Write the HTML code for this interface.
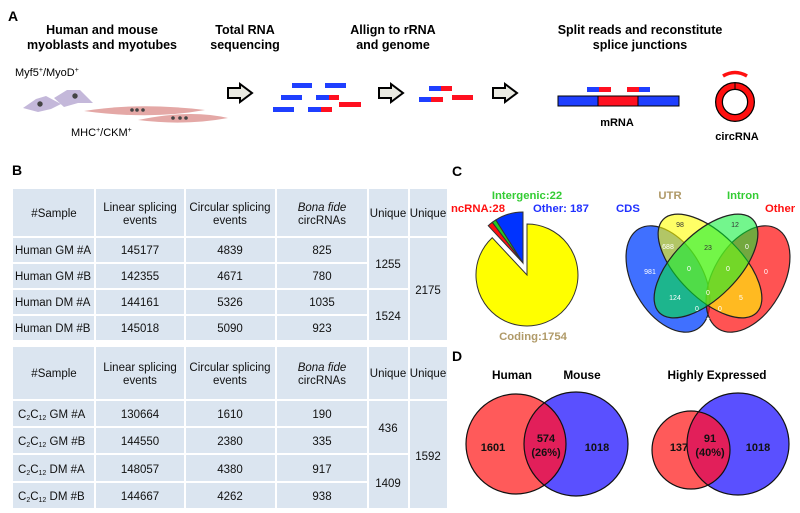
<!DOCTYPE html>
<html><head><meta charset="utf-8"><style>
body{margin:0;background:#fff;}
svg{display:block;font-family:"Liberation Sans",sans-serif;}
</style></head><body>
<svg width="800" height="513" viewBox="0 0 800 513" xmlns="http://www.w3.org/2000/svg">
<defs>
<clipPath id="h1"><circle cx="516" cy="444" r="50"/></clipPath>
<clipPath id="h2"><circle cx="691" cy="450" r="39"/></clipPath>
</defs>
<!-- Panel A -->
<text x="8" y="21" font-size="14" font-weight="bold">A</text>
<g font-size="12.5" font-weight="bold" text-anchor="middle">
<text x="102" y="34">Human and mouse</text><text x="102" y="49">myoblasts and myotubes</text>
<text x="245" y="34">Total RNA</text><text x="245" y="49">sequencing</text>
<text x="393" y="34">Allign to rRNA</text><text x="393" y="49">and genome</text>
<text x="640" y="34">Split reads and reconstitute</text><text x="640" y="49">splice junctions</text>
</g>
<text x="15" y="76" font-size="11">Myf5<tspan font-size="7" dy="-4">+</tspan><tspan dy="4">/MyoD</tspan><tspan font-size="7" dy="-4">+</tspan></text>
<text x="71" y="136" font-size="11">MHC<tspan font-size="7" dy="-4">+</tspan><tspan dy="4">/CKM</tspan><tspan font-size="7" dy="-4">+</tspan></text>
<path d="M23,108 L36,99 L46,96 L61,104 L51,109 L38,112 Z" fill="#c4b8da"/>
<path d="M54,98 L67,90 L80,90 L93,103 L78,103 L64,107 Z" fill="#c4b8da"/>
<circle cx="40" cy="104" r="2.7" fill="#444"/><circle cx="75" cy="96" r="2.7" fill="#444"/>
<path d="M84,111 Q140,102 205,110 Q150,120 84,111 Z" fill="#e4a8a6"/>
<path d="M138,120 Q190,109 228,118 Q185,126 138,120 Z" fill="#e4a8a6"/>
<g fill="#444"><circle cx="132" cy="110" r="1.8"/><circle cx="137" cy="110" r="1.8"/><circle cx="143" cy="110" r="1.8"/>
<circle cx="173" cy="118" r="1.8"/><circle cx="180" cy="118" r="1.8"/><circle cx="186" cy="118" r="1.8"/></g>
<g fill="#eaeae2" stroke="#000" stroke-width="2">
<path d="M228,88 L240,88 L240,84 L252,93 L240,102 L240,98 L228,98 Z"/>
<path d="M379,88 L391,88 L391,84 L403,93 L391,102 L391,98 L379,98 Z"/>
<path d="M493,88 L505,88 L505,84 L517,93 L505,102 L505,98 L493,98 Z"/>
</g>
<g>
<rect x="292" y="83" width="20" height="5" fill="#1f3fff"/><rect x="325" y="83" width="21" height="5" fill="#1f3fff"/>
<rect x="281" y="95" width="21" height="5" fill="#1f3fff"/><rect x="316" y="95" width="13" height="5" fill="#1f3fff"/><rect x="329" y="95" width="10" height="5" fill="#ff1020"/>
<rect x="339" y="102" width="22" height="5" fill="#ff1020"/>
<rect x="273" y="107" width="21" height="5" fill="#1f3fff"/><rect x="308" y="107" width="13" height="5" fill="#1f3fff"/><rect x="321" y="107" width="11" height="5" fill="#ff1020"/>
<rect x="429" y="86" width="12" height="5" fill="#1f3fff"/><rect x="441" y="86" width="11" height="5" fill="#ff1020"/>
<rect x="419" y="97" width="12" height="5" fill="#1f3fff"/><rect x="431" y="97" width="12" height="5" fill="#ff1020"/>
<rect x="452" y="95" width="21" height="5" fill="#ff1020"/>
<rect x="587" y="87" width="12" height="5" fill="#1f3fff"/><rect x="599" y="87" width="12" height="5" fill="#ff1020"/>
<rect x="627" y="87" width="12" height="5" fill="#ff1020"/><rect x="639" y="87" width="11" height="5" fill="#1f3fff"/>
</g>
<rect x="558" y="96" width="40" height="10" fill="#1f3fff" stroke="#000"/>
<rect x="598" y="96" width="40" height="10" fill="#ff1020" stroke="#000"/>
<rect x="638" y="96" width="41" height="10" fill="#1f3fff" stroke="#000"/>
<text x="617" y="126" font-size="11" font-weight="bold" text-anchor="middle">mRNA</text>
<circle cx="735" cy="102" r="16" fill="none" stroke="#000" stroke-width="8"/>
<circle cx="735" cy="102" r="16" fill="none" stroke="#ff1010" stroke-width="5.5"/>
<line x1="735" y1="83" x2="735" y2="89" stroke="#000" stroke-width="1"/>
<path d="M723,76 Q735,69 747,76" fill="none" stroke="#ff1010" stroke-width="3.5"/>
<text x="737" y="140" font-size="11" font-weight="bold" text-anchor="middle">circRNA</text>

<!-- Panel B -->
<text x="12" y="175" font-size="14" font-weight="bold">B</text>
<g fill="#dbe5f0">
<rect x="13" y="189" width="81" height="47"/><rect x="96" y="189" width="88" height="47"/><rect x="186" y="189" width="89" height="47"/><rect x="277" y="189" width="90" height="47"/><rect x="369" y="189" width="39" height="47"/><rect x="410" y="189" width="37" height="47"/>
<rect x="13" y="238" width="81" height="24"/><rect x="96" y="238" width="88" height="24"/><rect x="186" y="238" width="89" height="24"/><rect x="277" y="238" width="90" height="24"/>
<rect x="13" y="264" width="81" height="24"/><rect x="96" y="264" width="88" height="24"/><rect x="186" y="264" width="89" height="24"/><rect x="277" y="264" width="90" height="24"/>
<rect x="13" y="290" width="81" height="24"/><rect x="96" y="290" width="88" height="24"/><rect x="186" y="290" width="89" height="24"/><rect x="277" y="290" width="90" height="24"/>
<rect x="13" y="316" width="81" height="24"/><rect x="96" y="316" width="88" height="24"/><rect x="186" y="316" width="89" height="24"/><rect x="277" y="316" width="90" height="24"/>
<rect x="369" y="238" width="39" height="50"/><rect x="369" y="290" width="39" height="50"/><rect x="410" y="238" width="37" height="102"/>
<rect x="13" y="347" width="81" height="52"/><rect x="96" y="347" width="88" height="52"/><rect x="186" y="347" width="89" height="52"/><rect x="277" y="347" width="90" height="52"/><rect x="369" y="347" width="39" height="52"/><rect x="410" y="347" width="37" height="52"/>
<rect x="13" y="401" width="81" height="25"/><rect x="96" y="401" width="88" height="25"/><rect x="186" y="401" width="89" height="25"/><rect x="277" y="401" width="90" height="25"/>
<rect x="13" y="428" width="81" height="25"/><rect x="96" y="428" width="88" height="25"/><rect x="186" y="428" width="89" height="25"/><rect x="277" y="428" width="90" height="25"/>
<rect x="13" y="455" width="81" height="26"/><rect x="96" y="455" width="88" height="26"/><rect x="186" y="455" width="89" height="26"/><rect x="277" y="455" width="90" height="26"/>
<rect x="13" y="483" width="81" height="25"/><rect x="96" y="483" width="88" height="25"/><rect x="186" y="483" width="89" height="25"/><rect x="277" y="483" width="90" height="25"/>
<rect x="369" y="401" width="39" height="52"/><rect x="369" y="455" width="39" height="53"/><rect x="410" y="401" width="37" height="107"/>
</g>
<g font-size="11.5" text-anchor="middle" fill="#111">
<text x="54" y="217">#Sample</text>
<text x="140" y="211">Linear splicing</text><text x="140" y="224">events</text>
<text x="230" y="211">Circular splicing</text><text x="230" y="224">events</text>
<text x="322" y="211" font-style="italic">Bona fide</text><text x="322" y="224">circRNAs</text>
<text x="388" y="217">Unique</text><text x="428" y="217">Unique</text>
<text x="140" y="254">145177</text><text x="230" y="254">4839</text><text x="322" y="254">825</text>
<text x="140" y="280">142355</text><text x="230" y="280">4671</text><text x="322" y="280">780</text>
<text x="140" y="306">144161</text><text x="230" y="306">5326</text><text x="322" y="306">1035</text>
<text x="140" y="332">145018</text><text x="230" y="332">5090</text><text x="322" y="332">923</text>
<text x="388" y="268">1255</text><text x="388" y="320">1524</text><text x="428" y="294">2175</text>
<text x="54" y="377">#Sample</text>
<text x="140" y="371">Linear splicing</text><text x="140" y="384">events</text>
<text x="230" y="371">Circular splicing</text><text x="230" y="384">events</text>
<text x="322" y="371" font-style="italic">Bona fide</text><text x="322" y="384">circRNAs</text>
<text x="388" y="377">Unique</text><text x="428" y="377">Unique</text>
<text x="140" y="418">130664</text><text x="230" y="418">1610</text><text x="322" y="418">190</text>
<text x="140" y="445">144550</text><text x="230" y="445">2380</text><text x="322" y="445">335</text>
<text x="140" y="473">148057</text><text x="230" y="473">4380</text><text x="322" y="473">917</text>
<text x="140" y="500">144667</text><text x="230" y="500">4262</text><text x="322" y="500">938</text>
<text x="388" y="432">436</text><text x="388" y="487">1409</text><text x="428" y="460">1592</text>
</g>
<g font-size="11.5" fill="#111">
<text x="15" y="254">Human GM #A</text><text x="15" y="280">Human GM #B</text><text x="15" y="306">Human DM #A</text><text x="15" y="332">Human DM #B</text>
<text x="18" y="418">C<tspan font-size="7" dy="2">2</tspan><tspan dy="-2">C</tspan><tspan font-size="7" dy="2">12</tspan><tspan dy="-2"> GM #A</tspan></text>
<text x="18" y="445">C<tspan font-size="7" dy="2">2</tspan><tspan dy="-2">C</tspan><tspan font-size="7" dy="2">12</tspan><tspan dy="-2"> GM #B</tspan></text>
<text x="18" y="473">C<tspan font-size="7" dy="2">2</tspan><tspan dy="-2">C</tspan><tspan font-size="7" dy="2">12</tspan><tspan dy="-2"> DM #A</tspan></text>
<text x="18" y="500">C<tspan font-size="7" dy="2">2</tspan><tspan dy="-2">C</tspan><tspan font-size="7" dy="2">12</tspan><tspan dy="-2"> DM #B</tspan></text>
</g>

<!-- Panel C -->
<text x="452" y="176" font-size="14" font-weight="bold">C</text>
<g font-size="11.3" font-weight="bold">
<text x="527" y="199" text-anchor="middle" fill="#33cc33">Intergenic:22</text>
<text x="451" y="212" fill="#ff1010">ncRNA:28</text>
<text x="533" y="212" fill="#2030ff">Other: 187</text>
<text x="533" y="340" text-anchor="middle" fill="#b09a68">Coding:1754</text>
<text x="670" y="199" text-anchor="middle" fill="#b09a68">UTR</text>
<text x="743" y="199" text-anchor="middle" fill="#33cc33">Intron</text>
<text x="616" y="212" fill="#2030ff">CDS</text>
<text x="765" y="212" fill="#ff1010">Other</text>
</g>
<g stroke="#333" stroke-width="1">
<path d="M527,275 L527,224 A51,51 0 1 1 492.2,237.7 Z" fill="#ffff00"/>
<g transform="translate(-4,-12)">
<path d="M527,275 L492.2,237.7 A51,51 0 0 1 496.3,234.3 Z" fill="#ff1010"/>
<path d="M527,275 L496.3,234.3 A51,51 0 0 1 499.8,231.9 Z" fill="#22cc22"/>
<path d="M527,275 L499.8,231.9 A51,51 0 0 1 527,224 Z" fill="#0033ff"/>
</g>
</g>
<g stroke="#222" stroke-width="1.2">
<ellipse cx="668" cy="279" rx="58" ry="35" transform="rotate(60 668 279)" fill="#0040ff" fill-opacity="0.75"/>
<ellipse cx="748" cy="279" rx="58" ry="35" transform="rotate(-60 748 279)" fill="#ff1010" fill-opacity="0.72"/>
<ellipse cx="710" cy="266" rx="66" ry="32" transform="rotate(45 710 266)" fill="#ffff00" fill-opacity="0.6"/>
<ellipse cx="706" cy="266" rx="66" ry="32" transform="rotate(-45 706 266)" fill="#00ee30" fill-opacity="0.55"/>
</g>
<g font-size="7" text-anchor="middle" fill="#fff">
<text x="680" y="227" fill="#333">98</text><text x="735" y="227" fill="#333">12</text>
<text x="668" y="249">688</text><text x="708" y="250" fill="#333">23</text><text x="747" y="249">0</text>
<text x="650" y="274">981</text><text x="689" y="271">0</text><text x="728" y="271">0</text><text x="766" y="274">0</text>
<text x="675" y="300">124</text><text x="708" y="295">0</text><text x="741" y="300">5</text>
<text x="697" y="311">0</text><text x="720" y="311">0</text><text x="708" y="323">7</text>
</g>

<!-- Panel D -->
<text x="452" y="361" font-size="14" font-weight="bold">D</text>
<g font-size="11.8" font-weight="bold" text-anchor="middle">
<text x="512" y="379">Human</text><text x="582" y="379">Mouse</text><text x="717" y="379">Highly Expressed</text>
</g>
<circle cx="516" cy="444" r="50" fill="#ff5a5a"/>
<circle cx="576" cy="444" r="52" fill="#5a50ff"/>
<circle cx="576" cy="444" r="52" fill="#e21f5a" clip-path="url(#h1)"/>
<circle cx="516" cy="444" r="50" fill="none" stroke="#111" stroke-width="1.2"/>
<circle cx="576" cy="444" r="52" fill="none" stroke="#111" stroke-width="1.2"/>
<circle cx="691" cy="450" r="39" fill="#ff5a5a"/>
<circle cx="738" cy="444" r="51" fill="#5a50ff"/>
<circle cx="738" cy="444" r="51" fill="#e21f5a" clip-path="url(#h2)"/>
<circle cx="691" cy="450" r="39" fill="none" stroke="#111" stroke-width="1.2"/>
<circle cx="738" cy="444" r="51" fill="none" stroke="#111" stroke-width="1.2"/>
<g font-size="11" font-weight="bold" text-anchor="middle" fill="#111">
<text x="493" y="451">1601</text><text x="546" y="442">574</text><text x="546" y="456">(26%)</text><text x="597" y="451">1018</text>
<text x="679" y="451">137</text><text x="710" y="442">91</text><text x="710" y="456">(40%)</text><text x="758" y="451">1018</text>
</g>
</svg>
</body></html>
